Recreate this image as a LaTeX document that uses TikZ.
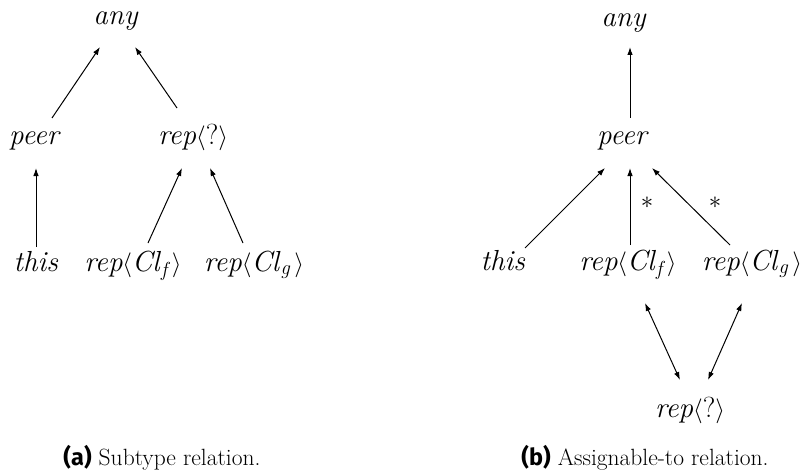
\documentclass[tikz,border=0pt]{standalone}
\usepackage{amsmath}
\usepackage{fontspec}
\newfontfamily\capsans{Fira Sans}
\usetikzlibrary{arrows.meta}
\newcommand{\myrep}[1]{\textit{rep}$\langle$#1$\rangle$}
\newcommand{\mycl}[1]{\textit{Cl}$_{\textit{#1}}\,$}
\begin{document}
\begin{tikzpicture}[x=1pt,y=-1pt,
  lbl/.style={anchor=base, inner sep=0pt, font=\fontsize{29}{34}\selectfont},
  captxt/.style={anchor=base, inner sep=0pt, font=\fontsize{23.5}{28}\selectfont},
  startxt/.style={inner sep=0pt, font=\fontsize{26}{30}\selectfont},
  arr/.style={-{Latex[length=8pt,width=5.5pt]}, line width=1pt},
  darr/.style={{Latex[length=8pt,width=5.5pt]}-{Latex[length=8pt,width=5.5pt]}, line width=1pt}]
\useasboundingbox (0,0) rectangle (808,476);
% (a)
\node[lbl] (anya) at (116,25) {\textit{any}};
\node[lbl] (peera) at (35,145) {\textit{peer}};
\node[lbl] (repqa) at (193,145) {\myrep{?}};
\node[lbl] (thisa) at (36,271) {\textit{this}};
\node[lbl] (clfa) at (133,271) {\myrep{\mycl{f}}};
\node[lbl] (clga) at (254,271) {\myrep{\mycl{g}}};
\draw[arr] ([shift={(17,-27)}]peera.base) -- ([shift={(-16,22)}]anya.base);
\draw[arr] ([shift={(-16,-37)}]repqa.base) -- ([shift={(19,22)}]anya.base);
\draw[arr] ([shift={(0,-24)}]thisa.base) -- ([shift={(1,23)}]peera.base);
\draw[arr] ([shift={(15,-28)}]clfa.base) -- ([shift={(-11,23)}]repqa.base);
\draw[arr] ([shift={(-11,-28)}]clga.base) -- ([shift={(17,23)}]repqa.base);
\node[captxt] (capa) at (162,465) {{\capsans\bfseries (a)}\ Subtype relation.};
% (b)
\node[lbl] (anyb) at (624,27) {\textit{any}};
\node[lbl] (peerb) at (623,145) {\textit{peer}};
\node[lbl] (thisb) at (503,270) {\textit{this}};
\node[lbl] (clfb) at (628,270) {\myrep{\mycl{f}}};
\node[lbl] (clgb) at (752,270) {\myrep{\mycl{g}}};
\node[lbl] (repqb) at (690,417) {\myrep{?}};
\draw[arr] ([shift={(7,-27)}]peerb.base) -- ([shift={(6,20)}]anyb.base);
\draw[arr] ([shift={(22,-22)}]thisb.base) -- ([shift={(-18,23)}]peerb.base);
\draw[arr] ([shift={(2,-25)}]clfb.base) -- ([shift={(7,23)}]peerb.base);
\draw[arr] ([shift={(-22,-25)}]clgb.base) -- ([shift={(29,23)}]peerb.base);
\node[startxt] (s1) at (647,203) {$*$};
\node[startxt] (s2) at (715,203) {$*$};
\draw[darr] ([shift={(17,33)}]clfb.base) -- ([shift={(-10,-37)}]repqb.base);
\draw[darr] ([shift={(-10,33)}]clgb.base) -- ([shift={(18,-37)}]repqb.base);
\node[captxt] (capb) at (645,465) {{\capsans\bfseries (b)}\ Assignable-to relation.};
\end{tikzpicture}
\end{document}
